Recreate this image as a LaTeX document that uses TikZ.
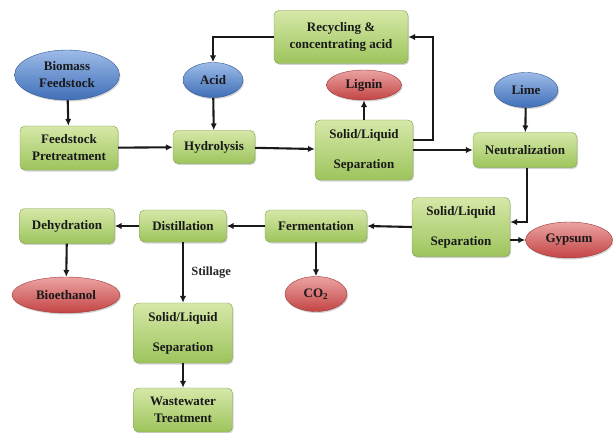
\documentclass[tikz,border=0pt]{standalone}
\usepackage{fontspec}
\setmainfont{Liberation Serif}
\usepackage{tikz}
\usetikzlibrary{arrows.meta,positioning,calc,shapes.geometric,shadows}
\definecolor{boxtop}{HTML}{D6E8A8}
\definecolor{boxbot}{HTML}{9DC45C}
\definecolor{boxline}{HTML}{7E9E4A}
\definecolor{bluetop}{HTML}{9DBBE8}
\definecolor{bluebot}{HTML}{3F6FB8}
\definecolor{redtop}{HTML}{EBA3A3}
\definecolor{redbot}{HTML}{C44444}
\tikzset{
  box/.style={draw=boxline, rounded corners=5pt, align=center, inner sep=2pt,
    top color=boxtop, bottom color=boxbot, font=\fontsize{13}{17}\selectfont\bfseries,
    text=black!90, drop shadow={shadow xshift=1pt, shadow yshift=-1.5pt, opacity=0.35}},
  feed/.style={ellipse, draw=bluebot!80!black, inner sep=0pt, align=center,
    top color=bluetop, bottom color=bluebot, font=\fontsize{13}{17}\selectfont\bfseries,
    text=black!90, drop shadow={shadow xshift=1pt, shadow yshift=-1.5pt, opacity=0.35}},
  prod/.style={ellipse, draw=redbot!80!black, inner sep=0pt, align=center,
    top color=redtop, bottom color=redbot, font=\fontsize{13}{17}\selectfont\bfseries,
    text=black!90, drop shadow={shadow xshift=1pt, shadow yshift=-1.5pt, opacity=0.35}},
  arrow/.style={-{Latex[length=2.4mm,width=2.2mm]}, line width=2.1pt, black!90}
}
\begin{document}
\begin{tikzpicture}[x=1pt,y=-1pt]
  \useasboundingbox (0,0) rectangle (613,433);
  % feeds and products
  \node[feed, minimum width=105pt, minimum height=50pt] (bio) at (67,75) {Biomass\\Feedstock};
  \node[feed, minimum width=60pt, minimum height=35pt] (acid) at (213,80) {Acid};
  \node[feed, minimum width=64pt, minimum height=35pt] (lime) at (526,90) {Lime};
  \node[prod, minimum width=75pt, minimum height=30pt] (lignin) at (364,85) {Lignin};
  \node[prod, minimum width=87pt, minimum height=36pt] (gyp) at (569,240) {Gypsum};
  \node[prod, minimum width=62pt, minimum height=35pt] (co2) at (316,294) {CO\textsubscript{2}};
  \node[prod, minimum width=108pt, minimum height=36pt] (bioeth) at (66,295) {Bioethanol};
  % process steps
  \node[box, minimum width=98pt, minimum height=44pt] (pretreat) at (69,148) {Feedstock\\Pretreatment};
  \node[box, minimum width=82pt, minimum height=33pt] (hydro) at (214,147) {Hydrolysis};
  \node[box, minimum width=134pt, minimum height=53pt] (recyc) at (341,37) {Recycling \&\\concentrating acid};
  \node[box, minimum width=98pt, minimum height=60pt] (sep1) at (364,150) {Solid/Liquid\\[13pt]Separation};
  \node[box, minimum width=104pt, minimum height=35pt] (neut) at (525,150) {Neutralization};
  \node[box, minimum width=98pt, minimum height=59pt] (sep2) at (461,227) {Solid/Liquid\\[13pt]Separation};
  \node[box, minimum width=102pt, minimum height=32pt] (ferm) at (316,226) {Fermentation};
  \node[box, minimum width=87pt, minimum height=32pt] (dist) at (183,226) {Distillation};
  \node[box, minimum width=95pt, minimum height=35pt] (dehyd) at (67,226) {Dehydration};
  \node[box, minimum width=99pt, minimum height=60pt] (sep3) at (183,333) {Solid/Liquid\\[13pt]Separation};
  \node[box, minimum width=99pt, minimum height=44pt] (waste) at (183,410) {Wastewater\\Treatment};
  % connectors
  \draw[arrow] (bio) -- (pretreat);
  \draw[arrow] (pretreat) -- (hydro);
  \draw[arrow] (acid) -- (hydro);
  \draw[arrow] (hydro) -- (sep1);
  \draw[arrow] (sep1) -- (lignin);
  \draw[arrow] ([yshift=10pt]sep1.east) -- ++(20,0) |- (recyc.east);
  \draw[arrow] (recyc.west) -| (acid.north);
  \draw[arrow] (sep1.east) -- (neut.west);
  \draw[arrow] (lime) -- (neut);
  \draw[arrow] ([xshift=2pt]neut.south) |- ([yshift=5pt]sep2.east);
  \draw[arrow] ([yshift=-13pt]sep2.east) -- (gyp.west);
  \draw[arrow] (sep2.west) -- (ferm.east);
  \draw[arrow] (ferm) -- (co2);
  \draw[arrow] (ferm) -- (dist);
  \draw[arrow] (dist) -- (dehyd);
  \draw[arrow] (dehyd) -- (bioeth);
  \draw[arrow] (dist) -- node[right=4pt, font=\fontsize{12.5}{15}\selectfont\bfseries, text=black!85] (still) {Stillage} (sep3);
  \draw[arrow] (sep3) -- (waste);
\end{tikzpicture}
\end{document}
